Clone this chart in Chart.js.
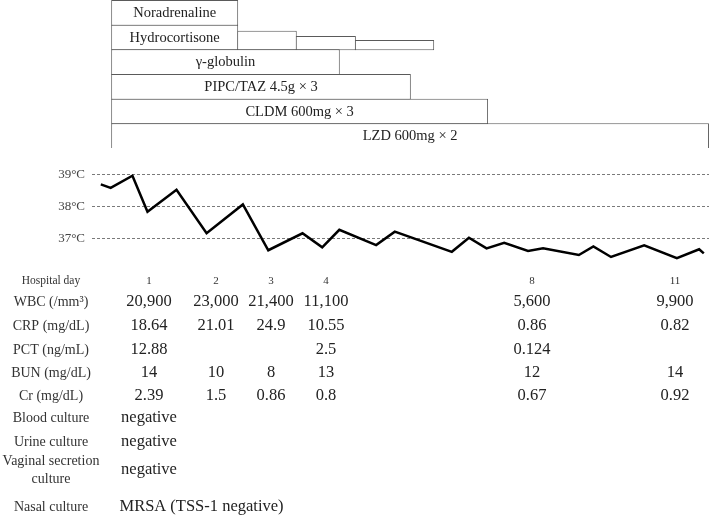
<!DOCTYPE html>
<html><head><meta charset="utf-8">
<script src="https://cdn.jsdelivr.net/npm/chart.js@4"></script>
<style>
html,body{margin:0;padding:0;background:#fff;}
#wrap{position:relative;width:709px;height:518px;overflow:hidden;background:#fff;}
canvas{position:absolute;left:0;}
</style></head><body>
<div id="wrap">
<canvas id="tx" width="709" height="150" style="top:0"></canvas>
<canvas id="tc" width="709" height="368" style="top:150px"></canvas>
</div>
<script>
// ---------- DATA ----------
// Treatments (hospital-day time axis)
const drugs      = ['Noradrenaline','Hydrocortisone','γ-globulin','PIPC/TAZ 4.5g × 3','CLDM 600mg × 3','LZD 600mg × 2'];
const drugStart  = [1.17, 1.17, 1.17, 1.17, 1.17, 1.17];
const drugEnd    = [3.60, 3.60, 5.56, 6.93, 8.42, 12.68];
// Hydrocortisone taper (relative dose shown by bar height)
const taperStart = [3.60, 4.73, 5.87];
const taperEnd   = [4.73, 5.87, 7.38];
const taperLevel = [0.75, 0.54, 0.38];
// Body temperature
const tempTime = [0.97,1.16,1.58,1.87,2.43,3.01,3.71,4.20,4.86,5.24,5.57,6.28,6.64,7.74,8.07,8.41,8.75,9.21,9.50,10.19,10.47,10.81,11.45,12.08,12.51,12.60];
const tempC    = [38.69,38.58,38.96,37.83,38.52,37.16,38.06,36.63,37.16,36.72,37.27,36.79,37.21,36.58,37.02,36.69,36.86,36.61,36.69,36.48,36.75,36.42,36.78,36.38,36.66,36.53];
const tempTicks = [37, 38, 39];
// Laboratory table
const hospitalDays = [1, 2, 3, 4, 8, 11];
const wbc = [20900, 23000, 21400, 11100, 5600, 9900];
const crp = ['18.64', '21.01', '24.9', '10.55', '0.86', '0.82'];
const pct = ['12.88', null, null, '2.5', '0.124', null];
const bun = ['14', '10', '8', '13', '12', '14'];
const cr  = ['2.39', '1.5', '0.86', '0.8', '0.67', '0.92'];
const cultureNames   = [['Blood culture'], ['Urine culture'], ['Vaginal secretion', 'culture'], ['Nasal culture']];
const cultureResults = ['negative', 'negative', 'negative', 'MRSA (TSS-1 negative)'];

// ---------- LAYOUT / STYLE ----------
const SERIF = "'Liberation Serif', 'Times New Roman', serif";
const X_MIN = 0.8, X_MAX = 12.7;
const LABEL_X = 51;
const COL_X = [149, 216, 271, 326, 532, 675];
const CANVAS2_TOP = 150;

// ---------- TOP: treatment bars ----------
const barAdjust = {
  id: 'barAdjust',
  afterDatasetsUpdate(chart) {
    chart.data.datasets.forEach((ds, di) => {
      const meta = chart.getDatasetMeta(di);
      meta.data.forEach((el, i) => {
        const lvl = ds.levels ? ds.levels[i] : 1;
        const full = el.height;
        const h = full * lvl;
        el.y = el.y + (full - h) / 2;
        el.height = h + 1; el.y += 0.5;
        el.x += 1;
      });
    });
  },
  afterDatasetsDraw(chart) {
    const ctx = chart.ctx;
    const meta = chart.getDatasetMeta(0);
    ctx.save();
    ctx.font = '14.5px ' + SERIF;
    ctx.fillStyle = '#222';
    ctx.textAlign = 'center';
    ctx.textBaseline = 'middle';
    meta.data.forEach((el, i) => {
      const cx = (el.base + Math.min(el.x, chart.chartArea.right)) / 2;
      ctx.fillText(drugs[i], cx, el.y + 0.5);
    });
    ctx.restore();
  }
};

new Chart(document.getElementById('tx'), {
  type: 'bar',
  data: {
    labels: drugs,
    datasets: [
      {
        data: drugs.map((d, i) => ({ y: d, x: [drugStart[i], drugEnd[i]] })),
        backgroundColor: '#fff', borderColor: '#5a5a5a', borderWidth: 1
      },
      {
        data: taperStart.map((s, i) => ({ y: 'Hydrocortisone', x: [s, taperEnd[i]] })),
        levels: taperLevel,
        backgroundColor: '#fff', borderColor: '#5a5a5a', borderWidth: 1
      }
    ]
  },
  options: {
    indexAxis: 'y',
    responsive: false, animation: false, devicePixelRatio: 1,
    layout: { padding: { left: 92, right: 0, top: 0, bottom: 2 } },
    datasets: { bar: { grouped: false, barPercentage: 1, categoryPercentage: 1, borderSkipped: false, inflateAmount: 0 } },
    scales: {
      x: { type: 'linear', min: X_MIN, max: X_MAX, display: false },
      y: { type: 'category', display: false }
    },
    plugins: { legend: { display: false }, tooltip: { enabled: false } }
  },
  plugins: [barAdjust]
});

// ---------- MIDDLE: temperature + table ----------
const tablePlugin = {
  id: 'labTable',
  afterDraw(chart) {
    const ctx = chart.ctx;
    const oy = CANVAS2_TOP;
    ctx.save();
    ctx.textAlign = 'center';
    ctx.textBaseline = 'middle';
    // header row
    ctx.fillStyle = '#333';
    ctx.font = '11.5px ' + SERIF;
    ctx.fillText('Hospital day', LABEL_X, 281 - oy);
    ctx.font = '11px ' + SERIF;
    hospitalDays.forEach((d, i) => ctx.fillText(String(d), COL_X[i], 281 - oy));

    const rows = [
      { label: 'WBC (/mm³)', vals: wbc.map(v => v.toLocaleString('en-US')), y: 302 },
      { label: 'CRP (mg/dL)', vals: crp, y: 326 },
      { label: 'PCT (ng/mL)', vals: pct, y: 350 },
      { label: 'BUN (mg/dL)', vals: bun, y: 373 },
      { label: 'Cr (mg/dL)',  vals: cr,  y: 396 }
    ];
    rows.forEach(r => {
      ctx.fillStyle = '#333';
      ctx.font = '14px ' + SERIF;
      ctx.fillText(r.label, LABEL_X, r.y - oy);
      ctx.fillStyle = '#222';
      ctx.font = '16.5px ' + SERIF;
      r.vals.forEach((v, i) => { if (v !== null) ctx.fillText(v, COL_X[i], r.y - oy); });
    });

    const cultY = [418, 442, 470, 507];
    const resX = [149, 149, 149, 201.5];
    cultureNames.forEach((lines, k) => {
      ctx.fillStyle = '#333';
      ctx.font = '14px ' + SERIF;
      const lh = 18;
      lines.forEach((ln, j) => {
        const yy = cultY[k] + (j - (lines.length - 1) / 2) * lh;
        ctx.fillText(ln, LABEL_X, yy - oy);
      });
      ctx.fillStyle = '#222';
      ctx.font = '16.5px ' + SERIF;
      ctx.fillText(cultureResults[k], resX[k], cultY[k] - oy);
    });
    ctx.restore();
  }
};

new Chart(document.getElementById('tc'), {
  type: 'line',
  data: {
    datasets: [{
      data: tempTime.map((t, i) => ({ x: t, y: tempC[i] })),
      borderColor: '#000', borderWidth: 2.5, pointRadius: 0, tension: 0, fill: false
    }]
  },
  options: {
    responsive: false, animation: false, devicePixelRatio: 1,
    layout: { padding: { left: 0, right: 0, top: 10, bottom: 254 } },
    scales: {
      x: { type: 'linear', min: X_MIN, max: X_MAX, display: false },
      y: {
        type: 'linear', min: 36.2, max: 39.45,
        afterBuildTicks: s => { s.ticks = tempTicks.map(v => ({ value: v })); },
        afterFit: s => { s.width = 92; s.paddingTop = 0; s.paddingBottom = 0; },
        border: { display: false, dash: [3, 2] },
        grid: { color: '#7a7a7a', lineWidth: 1, drawTicks: false },
        ticks: {
          padding: 7, color: '#444',
          font: { family: SERIF, size: 13 },
          callback: v => v + '°C'
        }
      }
    },
    plugins: { legend: { display: false }, tooltip: { enabled: false } }
  },
  plugins: [tablePlugin]
});
</script>
</body></html>
